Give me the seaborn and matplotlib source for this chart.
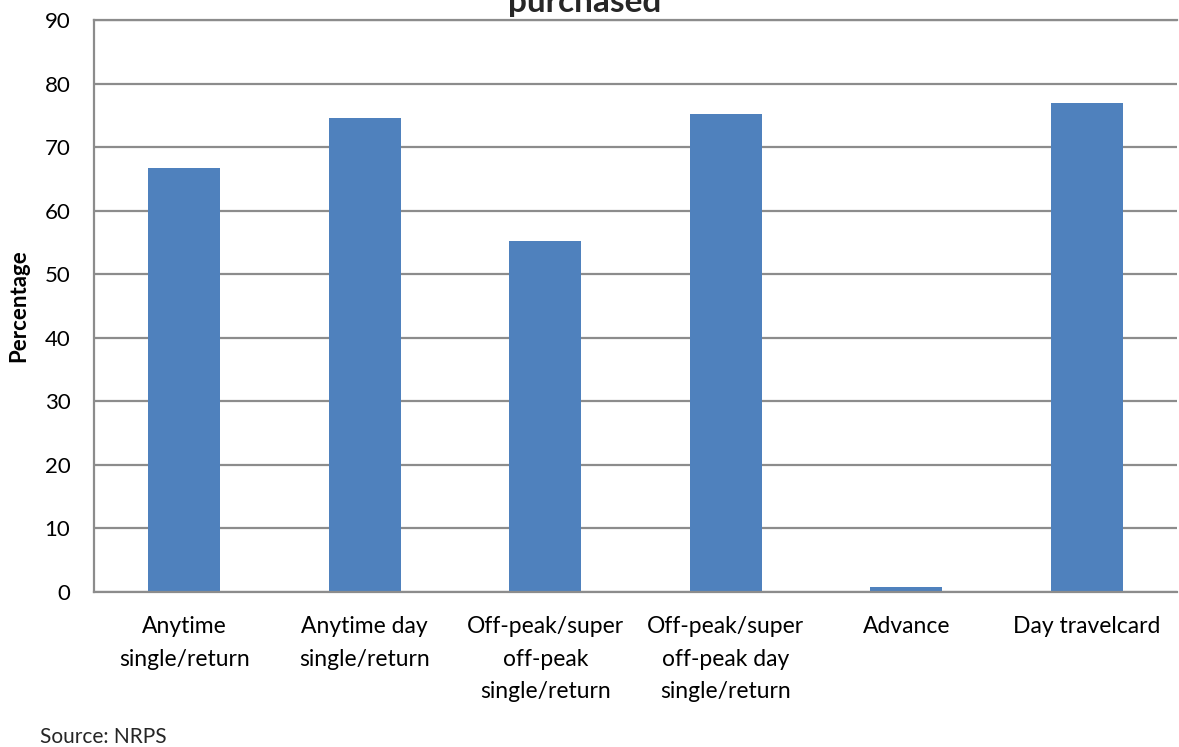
import matplotlib
matplotlib.use("Agg")
import matplotlib.pyplot as plt
import seaborn as sns
import pandas as pd

# data
categories = [
    "Anytime\nsingle/return",
    "Anytime day\nsingle/return",
    "Off-peak/super\noff-peak\nsingle/return",
    "Off-peak/super\noff-peak day\nsingle/return",
    "Advance",
    "Day travelcard",
]
percentages = [66.7, 74.6, 55.3, 75.2, 0.8, 77.0]
y_ticks = [0, 10, 20, 30, 40, 50, 60, 70, 80, 90]

title_text = "purchased"
y_label = "Percentage"
source_text = "Source: NRPS"

sns.set_theme(style="white")
plt.rcParams["font.family"] = ["Lato", "DejaVu Sans"]

df = pd.DataFrame({"category": categories, "pct": percentages})

fig = plt.figure(figsize=(11.79, 7.47), dpi=100)
ax = fig.add_axes([94 / 1179, 1 - 592 / 747, 1083 / 1179, 572 / 747])

sns.barplot(data=df, x="category", y="pct", color="#4F81BD", saturation=1,
            width=0.4, edgecolor="none", ax=ax)

ax.set_ylim(0, 90)
ax.set_yticks(y_ticks)
ax.set_xlabel("")
ax.set_ylabel(y_label, fontsize=16, fontweight="bold", color="black")
ax.yaxis.set_label_coords(-0.060, 0.5)

grid_col = "#8c8c8c"
ax.yaxis.grid(True, color=grid_col, linewidth=1.6)
ax.set_axisbelow(True)
for side in ["left", "bottom", "top"]:
    ax.spines[side].set_visible(True)
    ax.spines[side].set_color(grid_col)
    ax.spines[side].set_linewidth(1.6)
ax.spines["right"].set_visible(False)

ax.tick_params(axis="y", length=0, pad=17, labelsize=16, labelcolor="black")
ax.tick_params(axis="x", length=0, pad=17, labelsize=16.5, labelcolor="black")
for lab in ax.get_xticklabels():
    lab.set_linespacing(1.7)

# title is cut off at the top of the image, only the last line shows
fig.text(585 / 1179, 1 - 12 / 747, title_text, ha="center", va="baseline",
         fontsize=24, fontweight="bold")
fig.text(40 / 1179, 1 - 743 / 747, source_text, ha="left", va="baseline",
         fontsize=15)

fig.savefig("out.png", dpi=100)
